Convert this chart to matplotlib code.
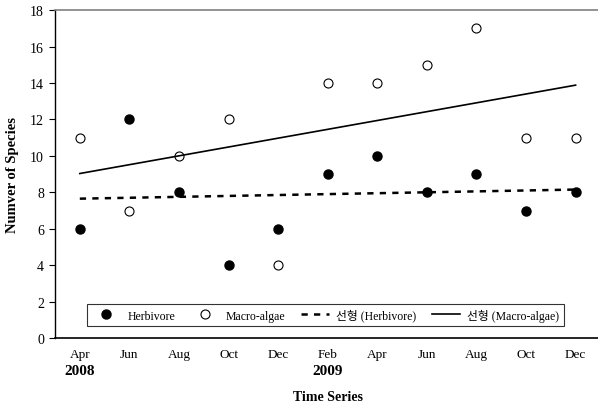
import numpy as np
import matplotlib
matplotlib.use("Agg")
import matplotlib.pyplot as plt

plt.rcParams['font.family'] = ['Liberation Serif', 'Noto Sans CJK KR']

# 데이터
months = ["Apr", "Jun", "Aug", "Oct", "Dec", "Feb", "Apr", "Jun", "Aug", "Oct", "Dec"]
herbivore = [6, 12, 8, 4, 6, 9, 10, 8, 9, 7, 8]
macro_algae = [11, 7, 10, 12, 4, 14, 14, 15, 17, 11, 11]
# 추세선 (시작/끝 값)
herb_trend = [7.65, 8.15]
algae_trend = [9.03, 13.88]
years = ["2008", "2009"]
year_pos = [0, 5]

x = np.arange(len(months))

fig = plt.figure(figsize=(5.98, 4.10), dpi=100)
ax = fig.add_axes([0.092, 0.173, 0.912, 0.800])

ax.plot(x, herbivore, 'o', color='black', markersize=6.5, label='Herbivore')
ax.plot(x, macro_algae, 'o', markerfacecolor='white', markeredgecolor='black',
        markeredgewidth=0.8, markersize=6.5, label='Macro-algae')
ax.plot([x[0], x[-1]], herb_trend, color='black', linestyle=(0, (2.5, 2.5)),
        linewidth=1.8, label='선형 (Herbivore)')
ax.plot([x[0], x[-1]], algae_trend, color='black', linewidth=1.2,
        label='선형 (Macro-algae)')

ax.set_xlim(-0.5, 10.5)
ax.set_ylim(0, 18)
ax.set_yticks(range(0, 19, 2))
ax.set_xticks(x)
ax.set_xticklabels(months)
ax.tick_params(axis='x', length=0, pad=7, labelsize=9.5)
ax.tick_params(axis='y', direction='out', length=4, width=0.8, labelsize=10, pad=4)

ax.spines['right'].set_visible(False)
ax.spines['top'].set_color('#808080')
ax.spines['top'].set_linewidth(1.2)
ax.spines['left'].set_linewidth(1.0)
ax.spines['bottom'].set_linewidth(1.2)

# 연도 표시
for yr, pos in zip(years, year_pos):
    ax.text(pos, -0.10, yr, transform=ax.get_xaxis_transform(), ha='center',
            va='center', fontsize=11, fontweight='bold')

ax.set_xlabel("Time Series", fontsize=10, fontweight='bold', labelpad=22)
ax.set_ylabel("Numver of Species", fontsize=10.5, fontweight='bold', labelpad=8)

leg = ax.legend(loc='lower center', bbox_to_anchor=(0.496, 0.018),
                ncol=4, frameon=True, fancybox=False,
                fontsize=8.5, handlelength=2.4, handletextpad=0.6,
                borderpad=0.4, columnspacing=1.3)
leg.get_frame().set_edgecolor('black')
leg.get_frame().set_linewidth(0.8)

fig.savefig("out.png", dpi=100)
